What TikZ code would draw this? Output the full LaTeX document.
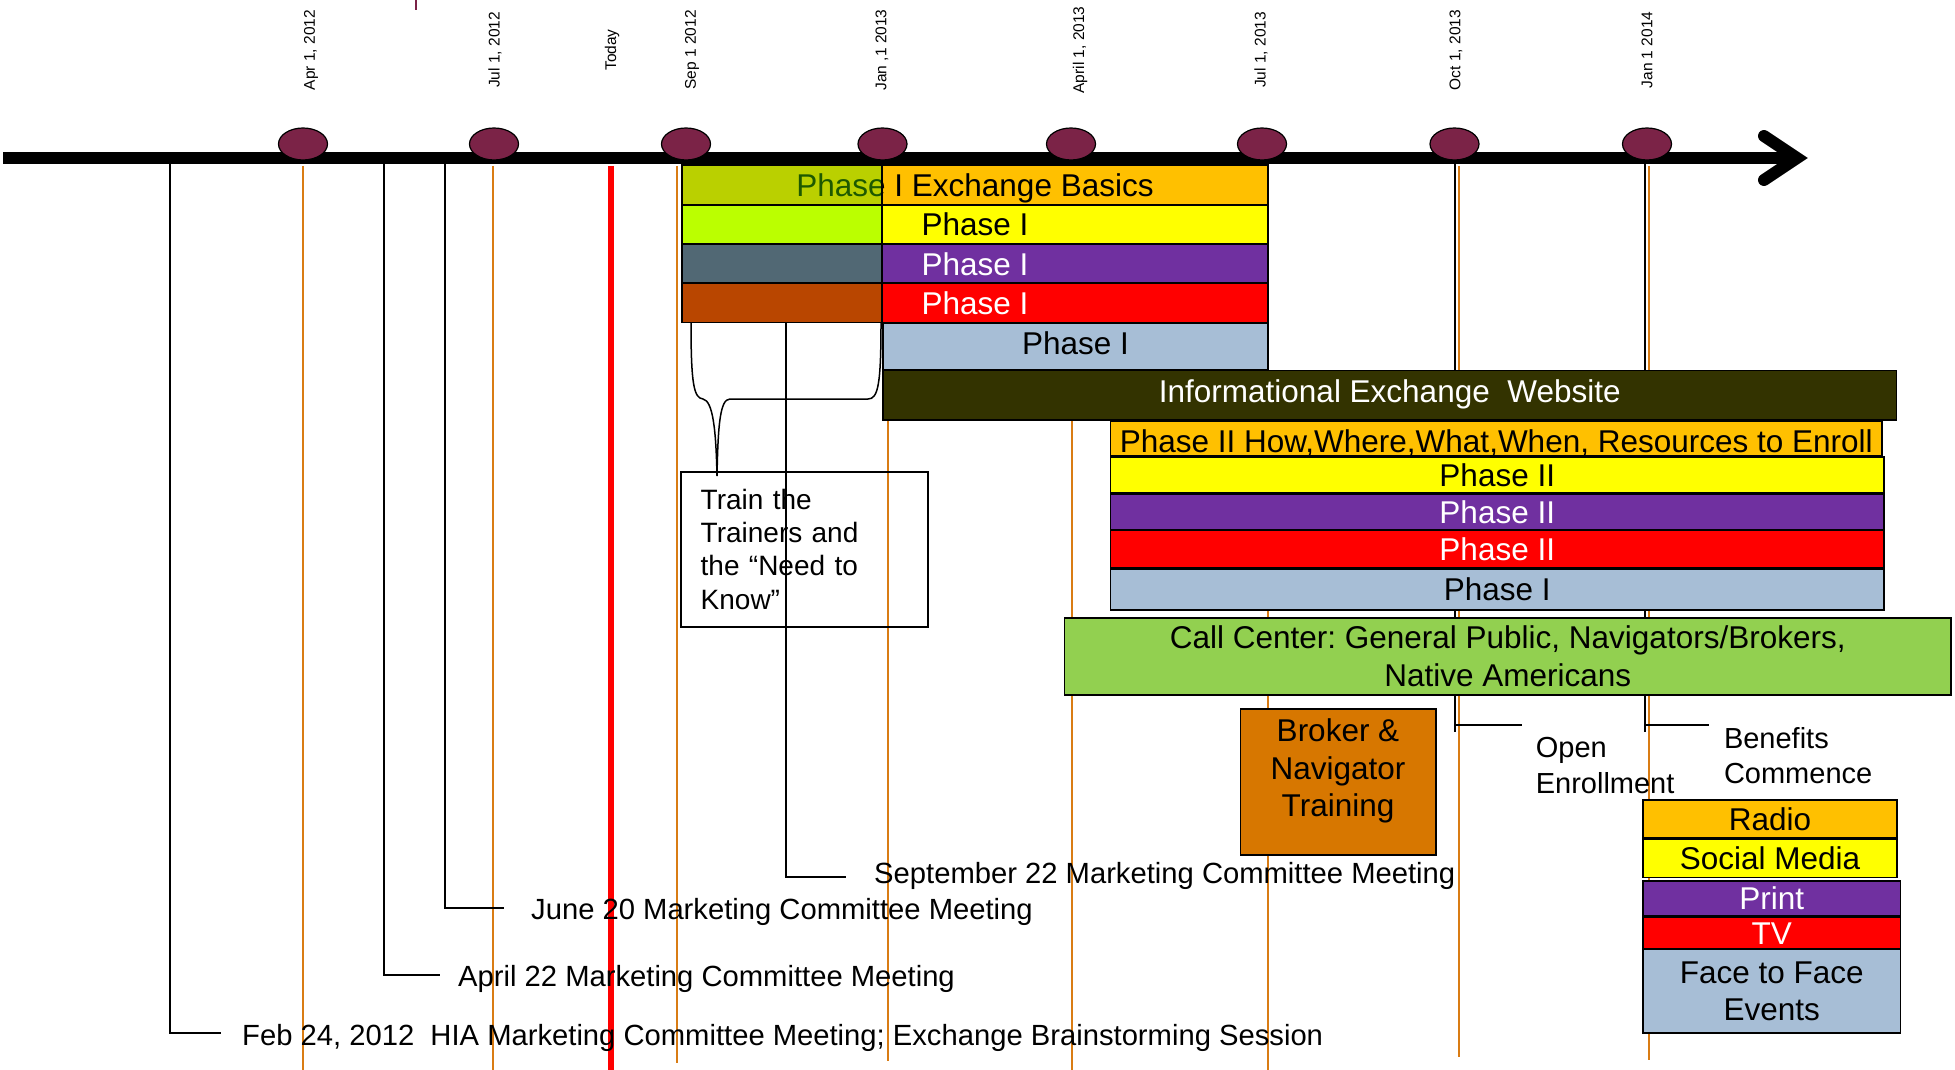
\documentclass[tikz,border=0pt]{standalone}
\usepackage{fontspec}
\setmainfont{Liberation Sans}
\usetikzlibrary{shapes.geometric}
\frenchspacing
\definecolor{gold}{RGB}{255,192,0}
\definecolor{yel}{RGB}{255,255,0}
\definecolor{purp}{RGB}{112,48,160}
\definecolor{redd}{RGB}{255,0,0}
\definecolor{lblue}{RGB}{167,190,214}
\definecolor{dolive}{RGB}{51,51,0}
\definecolor{ccgreen}{RGB}{146,208,80}
\definecolor{brok}{RGB}{215,119,0}
\definecolor{lime}{RGB}{187,255,0}
\definecolor{slate}{RGB}{81,104,116}
\definecolor{brwn}{RGB}{185,70,0}
\definecolor{ovgreen}{RGB}{78,234,0}
\definecolor{maroon}{RGB}{123,35,71}
\definecolor{oline}{RGB}{217,124,20}
\tikzset{
  bx/.style={draw=black, line width=1.8pt, inner sep=0pt, align=center, font=\fontsize{31.5}{38}\selectfont},
  oneline/.style={text height=22.6pt, text depth=0pt},
  dot/.style={ellipse, draw=black, line width=1.2pt, fill=maroon, minimum width=49pt, minimum height=32pt, inner sep=0pt},
  datelbl/.style={rotate=90, inner sep=0pt, font=\fontsize{15.5}{18}\selectfont},
  gridline/.style={draw=oline, line width=2pt},
  todayline/.style={draw=redd, line width=6pt},
  callout/.style={draw=black, line width=1.8pt},
  mtxt/.style={inner sep=0pt, anchor=base west, font=\fontsize{29.2}{35}\selectfont},
  note/.style={inner sep=0pt, anchor=west, align=left},
}
\begin{document}
\begin{tikzpicture}[x=1pt,y=-1pt]
\useasboundingbox (0,0) rectangle (1955,1070);

% orange month lines and today line
\foreach \x/\ye in {303/1070, 492.5/1070, 677/1063, 888/1061, 1072/1070, 1267.5/1070, 1459/1057, 1649/1060}
  \draw[gridline] (\x,166) -- (\x,\ye);
\draw[todayline] (611,166) -- (611,1070);

% meeting callout lines
\coordinate (f1) at (170,164);  \coordinate (f2) at (221,1033);
\coordinate (a1) at (384,164);  \coordinate (a2) at (440,975);
\coordinate (j1) at (445,164);  \coordinate (j2) at (504,908);
\draw[callout] (f1) |- (f2);
\draw[callout] (a1) |- (a2);
\draw[callout] (j1) |- (j2);
\coordinate (o1) at (1455,164); \coordinate (o2) at (1455,731.7);
\coordinate (o3) at (1455,725); \coordinate (o4) at (1521.6,725);
\coordinate (b1) at (1645,164); \coordinate (b2) at (1645,731.7);
\coordinate (b3) at (1645,725); \coordinate (b4) at (1709.4,725);
\draw[callout] (o1) -- (o2); \draw[callout] (o3) -- (o4);
\draw[callout] (b1) -- (b2); \draw[callout] (b3) -- (b4);

% timeline bar and arrow
\draw[line width=11.6pt] (3,158) -- (1795,158);
\draw[line width=12pt, line cap=round, line join=miter] (1764,136) -- (1797,158) -- (1764,180);
\draw[maroon, line width=1.5pt] (416,0) -- (416,10);

\foreach \i/\x in {1/303,2/494,3/686,4/882.5,5/1071,6/1262,7/1454.5,8/1647}
  \node[dot] (c\i) at (\x,144) {};

\node[datelbl] (d1) at (311,50) {Apr 1, 2012};
\node[datelbl] (d2) at (495,50) {Jul 1, 2012};
\node[datelbl] (d3) at (612,50) {Today};
\node[datelbl] (d4) at (692,50) {Sep 1 2012};
\node[datelbl] (d5) at (882,50) {Jan ,1 2013};
\node[datelbl] (d6) at (1080,50) {April 1, 2013};
\node[datelbl] (d7) at (1261,50) {Jul 1, 2013};
\node[datelbl] (d8) at (1456,50) {Oct 1, 2013};
\node[datelbl] (d9) at (1647,50) {Jan 1 2014};

% Phase I group
\node[bx, oneline, fill=gold, minimum width=586pt, minimum height=39.5pt] (p1a) at (975,184.75) {Phase I Exchange Basics};
\node[bx, fill=ovgreen, fill opacity=0.385, minimum width=200pt, minimum height=39.5pt] (p1aov) at (782,184.75) {};
\node[bx, oneline, fill=yel, minimum width=586pt, minimum height=38.5pt] (p1b) at (975,224.25) {Phase I};
\node[bx, fill=lime, minimum width=200pt, minimum height=38.5pt] (p1bov) at (782,224.25) {};
\node[bx, oneline, fill=purp, text=white, minimum width=586pt, minimum height=38.5pt] (p1c) at (975,263.75) {Phase I};
\node[bx, fill=slate, minimum width=200pt, minimum height=38.5pt] (p1cov) at (782,263.75) {};
\node[bx, oneline, fill=redd, text=white, minimum width=586pt, minimum height=39pt] (p1d) at (975,303) {Phase I};
\node[bx, fill=brwn, minimum width=200pt, minimum height=39pt] (p1dov) at (782,303) {};
\node[bx, oneline, text height=14.6pt, fill=lblue, minimum width=385pt, minimum height=46.5pt] (p1e) at (1075.5,346.75) {Phase I};

\node[bx, oneline, text height=15.1pt, fill=dolive, text=white, minimum width=1013.5pt, minimum height=49.5pt] (info) at (1389.75,395.25) {Informational Exchange~ Website};

% Phase II group
\node[bx, oneline, text height=27.6pt, fill=gold, minimum width=771.5pt, minimum height=35pt] (p2a) at (1496.25,438.5) {Phase II How,Where,What,When, Resources to Enroll};
\node[bx, oneline, fill=yel, minimum width=773.5pt, minimum height=36pt] (p2b) at (1497.25,475) {Phase II};
\node[bx, oneline, fill=purp, text=white, minimum width=773.5pt, minimum height=35.5pt] (p2c) at (1497.25,511.75) {Phase II};
\node[bx, oneline, fill=redd, text=white, minimum width=773.5pt, minimum height=38pt] (p2d) at (1497.25,549) {Phase II};
\node[bx, oneline, fill=lblue, minimum width=773.5pt, minimum height=41pt] (p2e) at (1497.25,589.5) {Phase I};

\node[bx, fill=ccgreen, minimum width=886.5pt, minimum height=77pt, font=\fontsize{31.5}{38.4}\selectfont] (cc) at (1507.75,656.5) {Call Center: General Public, Navigators/Brokers,\\ Native Americans};

\node[bx, fill=brok, minimum width=195.5pt, minimum height=146pt] (broker) at (1338.25,782) {};
\node[inner sep=0pt, align=center, font=\fontsize{31.5}{37.7}\selectfont] (brokertxt) at (1338,771) {Broker \&\\ Navigator\\ Training};

% media boxes
\node[bx, oneline, fill=gold, minimum width=254pt, minimum height=38pt] (radio) at (1770,819) {Radio};
\node[bx, oneline, fill=yel, minimum width=254pt, minimum height=38pt] (social) at (1770,858.5) {Social Media};
\node[bx, oneline, fill=purp, text=white, minimum width=257.5pt, minimum height=34.7pt] (print) at (1771.75,898.35) {Print};
\node[bx, oneline, fill=redd, text=white, minimum width=257.5pt, minimum height=32.6pt] (tv) at (1771.75,933) {TV};
\node[bx, fill=lblue, minimum width=257.5pt, minimum height=84pt, font=\fontsize{31.5}{37.7}\selectfont] (face) at (1771.75,991.3) {Face to Face\\ Events};

% brace and train box
\draw[line width=1.5pt] (691,323) .. controls (691,385) and (694,398) .. (703,399)
  .. controls (713,401) and (716,430) .. (717,476)
  .. controls (718,425) and (720,399) .. (730,399) -- (868,399)
  .. controls (878,399) and (881,385) .. (881,323);
\node[draw=black, line width=1.8pt, minimum width=247pt, minimum height=155pt, text width=207.6pt, inner xsep=19.7pt, inner ysep=0pt, align=left, font=\fontsize{28}{33.3}\selectfont] (train) at (804.5,549.2) {Train the\\ Trainers and\\ the “Need to\\ Know”};

\coordinate (s1) at (786,323); \coordinate (s2) at (846,877);
\draw[callout] (s1) |- (s2);

% texts
\node[mtxt] (m1) at (242,1045) {Feb 24, 2012~ HIA Marketing Committee Meeting; Exchange Brainstorming Session};
\node[mtxt] (m2) at (458,986.7) {April 22 Marketing Committee Meeting};
\node[mtxt] (m3) at (531,919) {June 20 Marketing Committee Meeting};
\node[mtxt] (m4) at (874,883.3) {September 22 Marketing Committee Meeting};

\node[note, font=\fontsize{29}{36}\selectfont] (openenr) at (1535.6,765.8) {Open\\ Enrollment};
\node[note, font=\fontsize{29}{35}\selectfont] (benef) at (1723.8,755.8) {Benefits\\ Commence};
\end{tikzpicture}
\end{document}
